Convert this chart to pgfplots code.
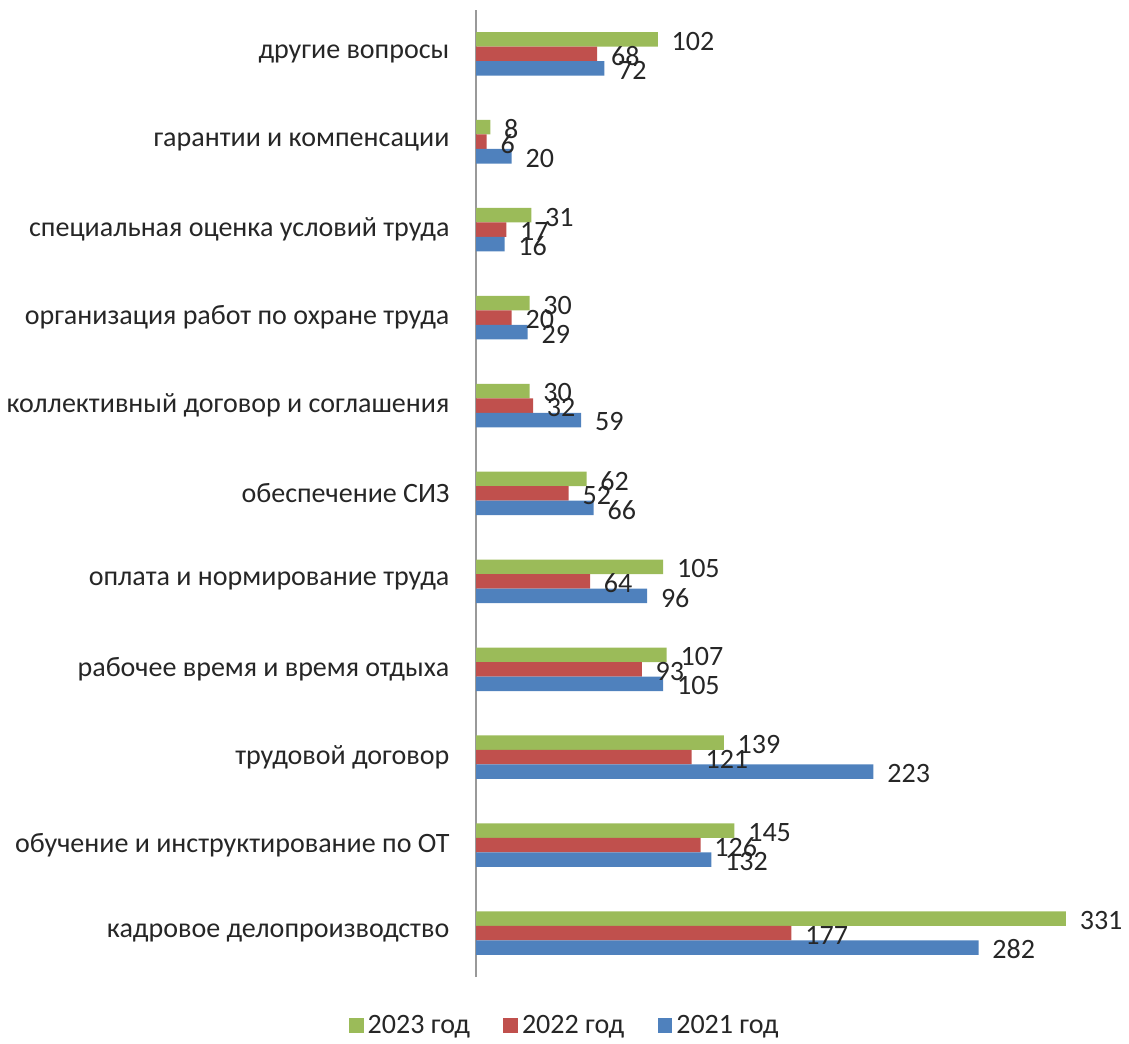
\documentclass[border=0pt]{standalone}
\usepackage{fontspec}
\setmainfont{Carlito}
\usepackage{pgfplots}
\pgfplotsset{compat=1.18}
\definecolor{cg}{HTML}{9BBB59}
\definecolor{cr}{HTML}{C0504D}
\definecolor{cb}{HTML}{4F81BD}
\definecolor{txt}{HTML}{262626}
\begin{document}
\begin{tikzpicture}
\begin{axis}[
  scale only axis,
  width=311.5pt, height=490pt,
  xmin=0, xmax=345, ymin=-0.5, ymax=10.5,
  xbar, bar width=7.35pt,
  hide x axis,
  axis y line*=left,
  y axis line style={draw=gray!80, line width=0.6pt},
  ytick={0,...,10},
  yticklabels={кадровое делопроизводство, обучение и инструктирование по ОТ, трудовой договор, рабочее время и время отдыха, оплата и нормирование труда, обеспечение СИЗ, коллективный договор и соглашения, организация работ по охране труда, специальная оценка условий труда, гарантии и компенсации, другие вопросы},
  major tick length=0pt,
  yticklabel style={font=\fontsize{14.2}{16}\selectfont, text=txt, xshift=-10pt},
  /pgf/number format/assume math mode=true,
  nodes near coords,
  every node near coord/.append style={font=\fontsize{14.2}{16}\selectfont, text=txt, anchor=west, xshift=3.5pt, yshift=-1pt},
  legend style={at={(0.146,0)}, anchor=north, yshift=-15pt, draw=none, legend columns=3, font=\fontsize{14.2}{16}\selectfont, text=txt, /tikz/every even column/.append style={column sep=15pt}},
  legend image code/.code={\fill[#1] (0pt,-3.7pt) rectangle (7.4pt,3.7pt);},
]
\addplot[fill=cg, draw=none, bar shift=7.35pt] coordinates {(331,0) (145,1) (139,2) (107,3) (105,4) (62,5) (30,6) (30,7) (31,8) (8,9) (102,10)};
\addplot[fill=cr, draw=none, bar shift=0pt] coordinates {(177,0) (126,1) (121,2) (93,3) (64,4) (52,5) (32,6) (20,7) (17,8) (6,9) (68,10)};
\addplot[fill=cb, draw=none, bar shift=-7.35pt] coordinates {(282,0) (132,1) (223,2) (105,3) (96,4) (66,5) (59,6) (29,7) (16,8) (20,9) (72,10)};
\legend{2023 год, 2022 год, 2021 год}
\end{axis}
\path ([yshift=5pt]current axis.north west) ++(0,0);
\end{tikzpicture}
\end{document}
